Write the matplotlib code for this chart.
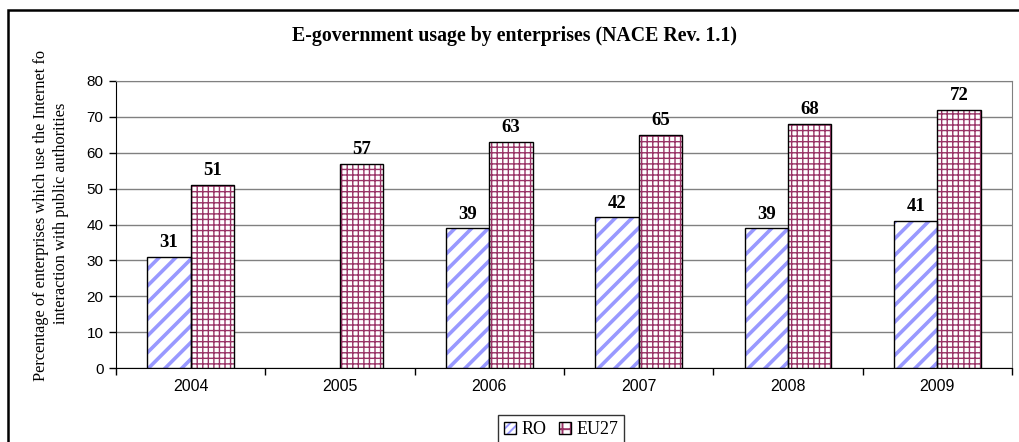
import matplotlib
matplotlib.use("Agg")
import matplotlib.pyplot as plt
import numpy as np
from matplotlib.patches import Rectangle, Patch
from matplotlib.transforms import Bbox, TransformedBbox
from matplotlib.legend_handler import HandlerTuple

years = ["2004", "2005", "2006", "2007", "2008", "2009"]
ro_values = [31, None, 39, 42, 39, 41]
eu27_values = [51, 57, 63, 65, 68, 72]
series_names = ["RO", "EU27"]

title = "E-government usage by enterprises (NACE Rev. 1.1)"
ylabel = "Percentage of enterprises which use the Internet for\ninteraction with public authorities"

RO_HATCH = "#9999ff"
EU_HATCH = "#993366"
GRID = "#808080"

fig = plt.figure(figsize=(10.19, 4.42), dpi=100)
W, H = 1019, 442
ax = fig.add_axes([116 / W, 1 - 368 / H, (1012 - 116) / W, (368 - 81) / H])

x = np.arange(len(years))
bw = 0.29


def hatched_bars(xpos, vals, hatch, hcolor, lw):
    plt.rcParams["hatch.linewidth"] = lw
    xs = [xi for xi, v in zip(xpos, vals) if v is not None]
    vs = [v for v in vals if v is not None]
    ax.bar(xs, vs, bw, color="white", edgecolor=hcolor, hatch=hatch,
           linewidth=0, zorder=3)
    ax.bar(xs, vs, bw, fill=False, edgecolor="black", linewidth=1.0, zorder=4)
    for xi, v in zip(xs, vs):
        ax.annotate(str(v), (xi, v), xytext=(0, 4), textcoords="offset points",
                    ha="center", va="bottom", fontsize=13.5, fontweight="bold",
                    family="Liberation Serif", zorder=5)


hatched_bars(x - bw / 2, ro_values, "//", RO_HATCH, 2.6)
hatched_bars(x + bw / 2, eu27_values, "+++", EU_HATCH, 1.0)

ax.set_xlim(-0.5, len(years) - 0.5)
ax.set_ylim(0, 80)
ax.set_yticks(np.arange(0, 81, 10))
ax.yaxis.grid(True, color=GRID, linewidth=1.0, zorder=0)
ax.set_axisbelow(True)

ax.set_xticks(x)
ax.set_xticklabels(years, family="Liberation Sans", fontsize=11.5)
ax.set_xticks(np.arange(-0.5, len(years), 1), minor=True)
ax.tick_params(axis="x", which="major", length=0, pad=8)
ax.tick_params(axis="x", which="minor", length=5, width=1, direction="out")
ax.tick_params(axis="y", length=5, width=1, direction="out", pad=4)
for lab in ax.get_yticklabels():
    lab.set_family("Liberation Sans")
    lab.set_fontsize(11)

ax.spines["left"].set_color("black")
ax.spines["bottom"].set_color("black")
ax.spines["top"].set_color(GRID)
ax.spines["right"].set_color(GRID)

fig.text(515 / W, 1 - 36 / H, title, ha="center", va="center",
         fontsize=14.3, fontweight="bold", family="Liberation Serif")

# y-axis label, cut off at the top edge of the chart area
ylab = fig.text(51 / W, 1 - 213 / H, ylabel, rotation=90, ha="center",
                va="center", fontsize=11.8, family="Liberation Serif",
                multialignment="center", linespacing=1.4)
ylab.set_clip_on(True)
ylab.set_clip_box(TransformedBbox(Bbox([[0, 0], [1, 1 - 51 / H]]),
                                  fig.transFigure))

# outer frame
frame = Rectangle((8 / W, -0.1), 1.2, 1 - 10 / H + 0.1, transform=fig.transFigure,
                  fill=False, edgecolor="black", linewidth=1.8)
fig.add_artist(frame)

plt.rcParams["hatch.linewidth"] = 1.4
handles = [
    (Patch(facecolor="white", edgecolor=RO_HATCH, hatch="////", linewidth=0),
     Patch(fill=False, edgecolor="black", linewidth=1.0)),
    (Patch(facecolor="white", edgecolor=EU_HATCH, hatch="++", linewidth=0),
     Patch(fill=False, edgecolor="black", linewidth=1.0)),
]
leg = fig.legend(handles, series_names, loc="upper left",
                 bbox_to_anchor=(498 / W, 1 - 415 / H),
                 handler_map={tuple: HandlerTuple(ndivide=1, pad=0)},
                 ncol=2, frameon=True, fancybox=False, edgecolor="black",
                 prop={"family": "Liberation Serif", "size": 13},
                 handlelength=0.65, handleheight=0.65, handletextpad=0.3,
                 columnspacing=0.7, borderpad=0.35, borderaxespad=0)
leg.get_frame().set_linewidth(1.0)

fig.savefig("out.png", dpi=100)
